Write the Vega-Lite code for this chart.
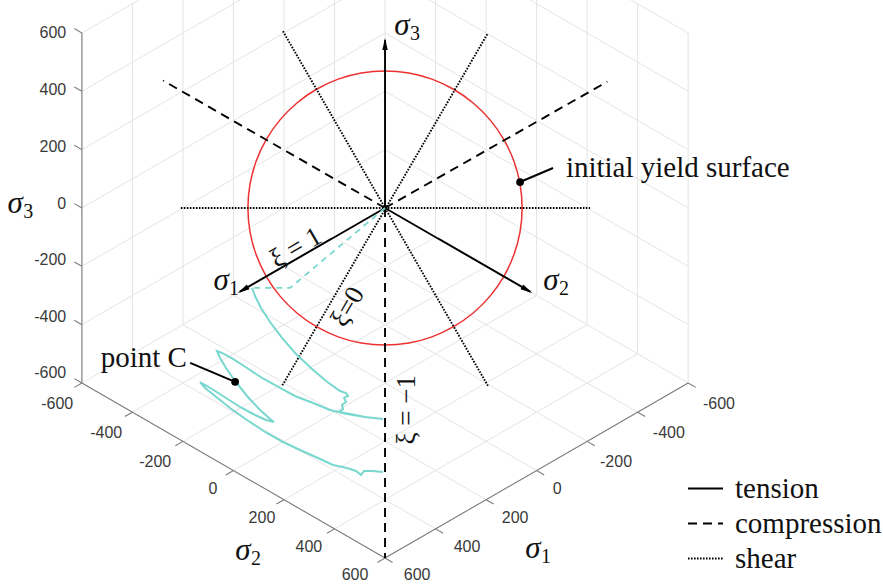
{
  "$schema": "https://vega.github.io/schema/vega-lite/v6.json",
  "width": 883,
  "height": 584,
  "padding": 0,
  "autosize": "none",
  "background": "white",
  "config": {"view": {"stroke": null}},
  "datasets": {
    "grid": [
      {"u": 0, "v": 0, "u2": 0, "v2": 1200},
      {"u": -173.2, "v": -100, "u2": -173.2, "v2": 1100},
      {"u": -346.4, "v": -200, "u2": -346.4, "v2": 1000},
      {"u": -519.6, "v": -300, "u2": -519.6, "v2": 900},
      {"u": -692.8, "v": -400, "u2": -692.8, "v2": 800},
      {"u": -866, "v": -500, "u2": -866, "v2": 700},
      {"u": -1039.2, "v": -600, "u2": -1039.2, "v2": 600},
      {"u": 0, "v": 0, "u2": -1039.2, "v2": -600},
      {"u": 0, "v": 200, "u2": -1039.2, "v2": -400},
      {"u": 0, "v": 400, "u2": -1039.2, "v2": -200},
      {"u": 0, "v": 600, "u2": -1039.2, "v2": 0},
      {"u": 0, "v": 800, "u2": -1039.2, "v2": 200},
      {"u": 0, "v": 1000, "u2": -1039.2, "v2": 400},
      {"u": 0, "v": 1200, "u2": -1039.2, "v2": 600},
      {"u": 173.2, "v": -100, "u2": 173.2, "v2": 1100},
      {"u": 346.4, "v": -200, "u2": 346.4, "v2": 1000},
      {"u": 519.6, "v": -300, "u2": 519.6, "v2": 900},
      {"u": 692.8, "v": -400, "u2": 692.8, "v2": 800},
      {"u": 866, "v": -500, "u2": 866, "v2": 700},
      {"u": 1039.2, "v": -600, "u2": 1039.2, "v2": 600},
      {"u": 0, "v": 0, "u2": 1039.2, "v2": -600},
      {"u": 0, "v": 200, "u2": 1039.2, "v2": -400},
      {"u": 0, "v": 400, "u2": 1039.2, "v2": -200},
      {"u": 0, "v": 600, "u2": 1039.2, "v2": 0},
      {"u": 0, "v": 800, "u2": 1039.2, "v2": 200},
      {"u": 0, "v": 1000, "u2": 1039.2, "v2": 400},
      {"u": 0, "v": 1200, "u2": 1039.2, "v2": 600},
      {"u": -173.2, "v": -100, "u2": 866, "v2": -700},
      {"u": -346.4, "v": -200, "u2": 692.8, "v2": -800},
      {"u": -519.6, "v": -300, "u2": 519.6, "v2": -900},
      {"u": -692.8, "v": -400, "u2": 346.4, "v2": -1000},
      {"u": -866, "v": -500, "u2": 173.2, "v2": -1100},
      {"u": -1039.2, "v": -600, "u2": 0, "v2": -1200},
      {"u": 173.2, "v": -100, "u2": -866, "v2": -700},
      {"u": 346.4, "v": -200, "u2": -692.8, "v2": -800},
      {"u": 519.6, "v": -300, "u2": -519.6, "v2": -900},
      {"u": 692.8, "v": -400, "u2": -346.4, "v2": -1000},
      {"u": 866, "v": -500, "u2": -173.2, "v2": -1100},
      {"u": 1039.2, "v": -600, "u2": 0, "v2": -1200}
    ],
    "axes": [
      {"u": -1039.2, "v": -600, "u2": -1039.2, "v2": 600},
      {"u": -1039.2, "v": -600, "u2": 0, "v2": -1200},
      {"u": 1039.2, "v": -600, "u2": 0, "v2": -1200},
      {"u": -1039.2, "v": 600, "u2": -1065.2, "v2": 615},
      {"u": -1039.2, "v": 400, "u2": -1065.2, "v2": 415},
      {"u": -1039.2, "v": 200, "u2": -1065.2, "v2": 215},
      {"u": -1039.2, "v": 0, "u2": -1065.2, "v2": 15},
      {"u": -1039.2, "v": -200, "u2": -1065.2, "v2": -185},
      {"u": -1039.2, "v": -400, "u2": -1065.2, "v2": -385},
      {"u": -1039.2, "v": -600, "u2": -1065.2, "v2": -585},
      {"u": -1039.2, "v": -600, "u2": -1065.2, "v2": -615},
      {"u": -866, "v": -700, "u2": -892, "v2": -715},
      {"u": -692.8, "v": -800, "u2": -718.8, "v2": -815},
      {"u": -519.6, "v": -900, "u2": -545.6, "v2": -915},
      {"u": -346.4, "v": -1000, "u2": -372.4, "v2": -1015},
      {"u": -173.2, "v": -1100, "u2": -199.2, "v2": -1115},
      {"u": 0, "v": -1200, "u2": -26, "v2": -1215},
      {"u": 1039.2, "v": -600, "u2": 1065.2, "v2": -615},
      {"u": 866, "v": -700, "u2": 892, "v2": -715},
      {"u": 692.8, "v": -800, "u2": 718.8, "v2": -815},
      {"u": 519.6, "v": -900, "u2": 545.6, "v2": -915},
      {"u": 346.4, "v": -1000, "u2": 372.4, "v2": -1015},
      {"u": 173.2, "v": -1100, "u2": 199.2, "v2": -1115},
      {"u": 0, "v": -1200, "u2": 26, "v2": -1215}
    ],
    "ticklabels": [
      {"axis": "s3", "label": "600", "u": -1093, "v": 600},
      {"axis": "s3", "label": "400", "u": -1093, "v": 404},
      {"axis": "s3", "label": "200", "u": -1093, "v": 209},
      {"axis": "s3", "label": "0", "u": -1093, "v": 14},
      {"axis": "s3", "label": "-200", "u": -1093, "v": -178},
      {"axis": "s3", "label": "-400", "u": -1093, "v": -374},
      {"axis": "s3", "label": "-600", "u": -1093, "v": -566},
      {"axis": "s2", "label": "-600", "u": -1124, "v": -672},
      {"axis": "s2", "label": "-400", "u": -956, "v": -771},
      {"axis": "s2", "label": "-200", "u": -788, "v": -871},
      {"axis": "s2", "label": "0", "u": -590, "v": -963},
      {"axis": "s2", "label": "200", "u": -422, "v": -1063},
      {"axis": "s2", "label": "400", "u": -261, "v": -1162},
      {"axis": "s2", "label": "600", "u": -103, "v": -1258},
      {"axis": "s1", "label": "600", "u": 110, "v": -1258},
      {"axis": "s1", "label": "400", "u": 281, "v": -1162},
      {"axis": "s1", "label": "200", "u": 446, "v": -1063},
      {"axis": "s1", "label": "0", "u": 590, "v": -963},
      {"axis": "s1", "label": "-200", "u": 792, "v": -871},
      {"axis": "s1", "label": "-400", "u": 973, "v": -771},
      {"axis": "s1", "label": "-600", "u": 1145, "v": -672}
    ],
    "circle": [
      {"i": 0, "u": 470, "v": 0}, {"i": 1, "u": 462.9, "v": 81.6}, {"i": 2, "u": 441.7, "v": 160.7},
      {"i": 3, "u": 407.0, "v": 235.0}, {"i": 4, "u": 360.0, "v": 302.1}, {"i": 5, "u": 302.1, "v": 360.0},
      {"i": 6, "u": 235.0, "v": 407.0}, {"i": 7, "u": 160.7, "v": 441.7}, {"i": 8, "u": 81.6, "v": 462.9},
      {"i": 9, "u": 0, "v": 470}, {"i": 10, "u": -81.6, "v": 462.9}, {"i": 11, "u": -160.7, "v": 441.7},
      {"i": 12, "u": -235.0, "v": 407.0}, {"i": 13, "u": -302.1, "v": 360.0}, {"i": 14, "u": -360.0, "v": 302.1},
      {"i": 15, "u": -407.0, "v": 235.0}, {"i": 16, "u": -441.7, "v": 160.7}, {"i": 17, "u": -462.9, "v": 81.6},
      {"i": 18, "u": -470, "v": 0}, {"i": 19, "u": -462.9, "v": -81.6}, {"i": 20, "u": -441.7, "v": -160.7},
      {"i": 21, "u": -407.0, "v": -235.0}, {"i": 22, "u": -360.0, "v": -302.1}, {"i": 23, "u": -302.1, "v": -360.0},
      {"i": 24, "u": -235.0, "v": -407.0}, {"i": 25, "u": -160.7, "v": -441.7}, {"i": 26, "u": -81.6, "v": -462.9},
      {"i": 27, "u": 0, "v": -470}, {"i": 28, "u": 81.6, "v": -462.9}, {"i": 29, "u": 160.7, "v": -441.7},
      {"i": 30, "u": 235.0, "v": -407.0}, {"i": 31, "u": 302.1, "v": -360.0}, {"i": 32, "u": 360.0, "v": -302.1},
      {"i": 33, "u": 407.0, "v": -235.0}, {"i": 34, "u": 441.7, "v": -160.7}, {"i": 35, "u": 462.9, "v": -81.6}
    ],
    "rays": [
      {"type": "tension", "u": 0, "v": 0, "u2": 0, "v2": 575},
      {"type": "tension", "u": 0, "v": 0, "u2": -498, "v2": -287},
      {"type": "tension", "u": 0, "v": 0, "u2": 498, "v2": -287},
      {"type": "compression", "u": 0, "v": 0, "u2": -761, "v2": 437},
      {"type": "compression", "u": 0, "v": 0, "u2": 762, "v2": 433},
      {"type": "compression", "u": 0, "v": 0, "u2": 0, "v2": -1200},
      {"type": "shear", "u": -700, "v": 0, "u2": 703, "v2": 0},
      {"type": "shear", "u": -352, "v": -608, "u2": 353, "v2": 600},
      {"type": "shear", "u": -350, "v": 606, "u2": 353, "v2": -610}
    ],
    "path": [
      {"seg": "elastic", "i": 0, "u": 0, "v": 0},
      {"seg": "elastic", "i": 1, "u": -325.7, "v": -274.2},
      {"seg": "elastic", "i": 2, "u": -455.9, "v": -274.2},
      {"seg": "plastic", "i": 3, "u": -455.9, "v": -274.2},
      {"seg": "plastic", "i": 4, "u": -445.6, "v": -301.7},
      {"seg": "plastic", "i": 5, "u": -425.1, "v": -342.8},
      {"seg": "plastic", "i": 6, "u": -394.2, "v": -390.8},
      {"seg": "plastic", "i": 7, "u": -353.1, "v": -445.6},
      {"seg": "plastic", "i": 8, "u": -305.1, "v": -500.5},
      {"seg": "plastic", "i": 9, "u": -250.2, "v": -551.9},
      {"seg": "plastic", "i": 10, "u": -202.3, "v": -593.0},
      {"seg": "plastic", "i": 11, "u": -154.3, "v": -627.3},
      {"seg": "plastic", "i": 12, "u": -133.7, "v": -634.2},
      {"seg": "plastic", "i": 13, "u": -126.8, "v": -644.4},
      {"seg": "plastic", "i": 14, "u": -140.5, "v": -651.3},
      {"seg": "plastic", "i": 15, "u": -133.7, "v": -665.0},
      {"seg": "plastic", "i": 16, "u": -147.4, "v": -675.3},
      {"seg": "plastic", "i": 17, "u": -144.0, "v": -689.0},
      {"seg": "plastic", "i": 18, "u": -157.7, "v": -699.3},
      {"seg": "plastic", "i": 19, "u": -120.0, "v": -706.2},
      {"seg": "plastic", "i": 20, "u": -68.6, "v": -716.5},
      {"seg": "plastic", "i": 21, "u": -6.9, "v": -723.3},
      {"seg": "plastic", "i": 22, "u": -68.6, "v": -716.5},
      {"seg": "plastic", "i": 23, "u": -130.3, "v": -706.2},
      {"seg": "plastic", "i": 24, "u": -188.5, "v": -692.5},
      {"seg": "plastic", "i": 25, "u": -246.8, "v": -668.5},
      {"seg": "plastic", "i": 26, "u": -308.5, "v": -644.5},
      {"seg": "plastic", "i": 27, "u": -359.9, "v": -617.0},
      {"seg": "plastic", "i": 28, "u": -421.6, "v": -582.7},
      {"seg": "plastic", "i": 29, "u": -473.1, "v": -548.5},
      {"seg": "plastic", "i": 30, "u": -521.1, "v": -517.6},
      {"seg": "plastic", "i": 31, "u": -558.8, "v": -497.1},
      {"seg": "plastic", "i": 32, "u": -575.9, "v": -490.2},
      {"seg": "plastic", "i": 33, "u": -565.6, "v": -514.2},
      {"seg": "plastic", "i": 34, "u": -545.1, "v": -548.5},
      {"seg": "plastic", "i": 35, "u": -514.2, "v": -593.0},
      {"seg": "plastic", "i": 36, "u": -473.1, "v": -644.5},
      {"seg": "plastic", "i": 37, "u": -431.9, "v": -689.0},
      {"seg": "plastic", "i": 38, "u": -394.2, "v": -723.3},
      {"seg": "plastic", "i": 39, "u": -380.5, "v": -733.6},
      {"seg": "plastic", "i": 40, "u": -407.9, "v": -726.7},
      {"seg": "plastic", "i": 41, "u": -445.6, "v": -709.6},
      {"seg": "plastic", "i": 42, "u": -497.1, "v": -682.2},
      {"seg": "plastic", "i": 43, "u": -545.1, "v": -651.3},
      {"seg": "plastic", "i": 44, "u": -593.1, "v": -620.5},
      {"seg": "plastic", "i": 45, "u": -623.9, "v": -603.3},
      {"seg": "plastic", "i": 46, "u": -634.2, "v": -596.5},
      {"seg": "plastic", "i": 47, "u": -617.0, "v": -617.0},
      {"seg": "plastic", "i": 48, "u": -582.8, "v": -644.5},
      {"seg": "plastic", "i": 49, "u": -531.3, "v": -685.6},
      {"seg": "plastic", "i": 50, "u": -473.1, "v": -726.7},
      {"seg": "plastic", "i": 51, "u": -411.4, "v": -767.9},
      {"seg": "plastic", "i": 52, "u": -349.7, "v": -802.2},
      {"seg": "plastic", "i": 53, "u": -291.4, "v": -829.6},
      {"seg": "plastic", "i": 54, "u": -229.7, "v": -857.0},
      {"seg": "plastic", "i": 55, "u": -178.3, "v": -881.0},
      {"seg": "plastic", "i": 56, "u": -130.3, "v": -891.3},
      {"seg": "plastic", "i": 57, "u": -99.4, "v": -901.6},
      {"seg": "plastic", "i": 58, "u": -82.3, "v": -915.3},
      {"seg": "plastic", "i": 59, "u": -72.0, "v": -901.6},
      {"seg": "plastic", "i": 60, "u": -44.6, "v": -901.6},
      {"seg": "plastic", "i": 61, "u": -6.9, "v": -905.0}
    ],
    "heads": [
      {"axis": "s3", "u": 0, "v": 562},
      {"axis": "s1", "u": -487, "v": -281},
      {"axis": "s2", "u": 487, "v": -281}
    ],
    "leaders": [
      {"u": 463, "v": 89, "u2": 576, "v2": 137},
      {"u": -514, "v": -596, "u2": -668, "v2": -531}
    ],
    "sigmas": [
      {"sym": "σ", "sub": "3", "u": 58, "v": 593},
      {"sym": "σ", "sub": "1", "u": -562, "v": -281},
      {"sym": "σ", "sub": "2", "u": 569, "v": -281},
      {"sym": "σ", "sub": "3", "u": -1268, "v": -17},
      {"sym": "σ", "sub": "2", "u": -487, "v": -1207},
      {"sym": "σ", "sub": "1", "u": 507, "v": -1200}
    ]
  },
  "encoding": {
    "x": {"field": "u", "type": "quantitative", "scale": {"domain": [-1320, 1707.2], "nice": false, "zero": false}, "axis": null},
    "y": {"field": "v", "type": "quantitative", "scale": {"domain": [-1289, 713], "nice": false, "zero": false}, "axis": null}
  },
  "layer": [
    {"data": {"name": "grid"}, "mark": {"type": "rule", "color": "#e4e4e4", "strokeWidth": 1, "clip": true},
     "encoding": {"x2": {"field": "u2"}, "y2": {"field": "v2"}}},
    {"data": {"name": "axes"}, "mark": {"type": "rule", "color": "#7d7d7d", "strokeWidth": 1.1},
     "encoding": {"x2": {"field": "u2"}, "y2": {"field": "v2"}}},
    {"data": {"name": "ticklabels"}, "transform": [{"filter": "datum.axis === 's3'"}],
     "mark": {"type": "text", "align": "right", "baseline": "middle", "font": "Liberation Sans", "fontSize": 16, "color": "#3a3a3a"},
     "encoding": {"text": {"field": "label"}}},
    {"data": {"name": "ticklabels"}, "transform": [{"filter": "datum.axis !== 's3'"}],
     "mark": {"type": "text", "align": "center", "baseline": "middle", "font": "Liberation Sans", "fontSize": 16, "color": "#3a3a3a"},
     "encoding": {"text": {"field": "label"}}},
    {"data": {"name": "circle"}, "mark": {"type": "line", "color": "#ee3030", "strokeWidth": 1.5, "interpolate": "cardinal-closed"},
     "encoding": {"order": {"field": "i", "type": "quantitative"}}},
    {"data": {"name": "rays"}, "mark": {"type": "rule", "color": "black", "strokeWidth": 1.9},
     "encoding": {
       "x2": {"field": "u2"}, "y2": {"field": "v2"},
       "strokeDash": {"field": "type", "type": "nominal",
         "scale": {"domain": ["tension", "compression", "shear"], "range": [[1, 0], [9, 6], [1.6, 1.4]]},
         "legend": {"orient": "none", "legendX": 687, "legendY": 470, "title": null, "symbolType": "stroke",
           "symbolSize": 1225, "symbolStrokeWidth": 1.8, "symbolStrokeColor": "black",
           "labelFont": "Liberation Serif", "labelFontSize": 29, "labelColor": "#111", "labelOffset": 11,
           "labelLimit": 400, "rowPadding": 1, "padding": 0}}
     }},
    {"data": {"name": "path"}, "transform": [{"filter": "datum.seg === 'elastic'"}],
     "mark": {"type": "line", "color": "#78d8cf", "strokeWidth": 1.8, "strokeDash": [6, 5]},
     "encoding": {"order": {"field": "i", "type": "quantitative"}}},
    {"data": {"name": "path"}, "transform": [{"filter": "datum.seg === 'plastic'"}],
     "mark": {"type": "line", "color": "#78d8cf", "strokeWidth": 2},
     "encoding": {"order": {"field": "i", "type": "quantitative"}}},
    {"data": {"name": "heads"}, "transform": [{"filter": "datum.axis === 's3'"}],
     "mark": {"type": "point", "shape": "M0,-1L0.45,1L-0.45,1Z", "size": 144, "filled": true, "color": "black", "opacity": 1, "angle": 0}},
    {"data": {"name": "heads"}, "transform": [{"filter": "datum.axis === 's1'"}],
     "mark": {"type": "point", "shape": "M0,-1L0.45,1L-0.45,1Z", "size": 144, "filled": true, "color": "black", "opacity": 1, "angle": 240}},
    {"data": {"name": "heads"}, "transform": [{"filter": "datum.axis === 's2'"}],
     "mark": {"type": "point", "shape": "M0,-1L0.45,1L-0.45,1Z", "size": 144, "filled": true, "color": "black", "opacity": 1, "angle": 120}},
    {"data": {"name": "leaders"}, "mark": {"type": "rule", "color": "black", "strokeWidth": 2},
     "encoding": {"x2": {"field": "u2"}, "y2": {"field": "v2"}}},
    {"data": {"name": "leaders"}, "mark": {"type": "point", "filled": true, "color": "black", "opacity": 1, "size": 60}},
    {"data": {"values": [
       {"label": "initial yield surface", "u": 620, "v": 106}
     ]},
     "mark": {"type": "text", "align": "left", "baseline": "alphabetic", "font": "Liberation Serif", "fontSize": 29, "color": "#111"},
     "encoding": {"text": {"field": "label"}}},
    {"data": {"values": [
       {"label": "point C", "u": -679, "v": -545}
     ]},
     "mark": {"type": "text", "align": "right", "baseline": "alphabetic", "font": "Liberation Serif", "fontSize": 29, "color": "#111"},
     "encoding": {"text": {"field": "label"}}},
    {"data": {"name": "sigmas"},
     "mark": {"type": "text", "align": "center", "baseline": "alphabetic", "font": "Liberation Serif", "fontStyle": "italic", "fontSize": 31, "color": "#111"},
     "encoding": {"text": {"field": "sym"}}},
    {"data": {"name": "sigmas"},
     "mark": {"type": "text", "align": "left", "baseline": "alphabetic", "font": "Liberation Serif", "fontSize": 20, "color": "#111", "dx": 8, "dy": 5},
     "encoding": {"text": {"field": "sub"}}},
    {"data": {"values": [{"label": "ξ = 1", "u": -305, "v": -137}]},
     "mark": {"type": "text", "align": "center", "baseline": "middle", "font": "Liberation Serif", "fontSize": 27, "color": "#111", "angle": -30},
     "encoding": {"text": {"field": "label"}}},
    {"data": {"values": [{"label": "ξ=0", "u": -127, "v": -339}]},
     "mark": {"type": "text", "align": "center", "baseline": "middle", "font": "Liberation Serif", "fontSize": 27, "color": "#111", "angle": -60},
     "encoding": {"text": {"field": "label"}}},
    {"data": {"values": [{"label": "ξ = −1", "u": 75, "v": -692}]},
     "mark": {"type": "text", "align": "center", "baseline": "middle", "font": "Liberation Serif", "fontSize": 27, "color": "#111", "angle": -90},
     "encoding": {"text": {"field": "label"}}}
  ]
}
